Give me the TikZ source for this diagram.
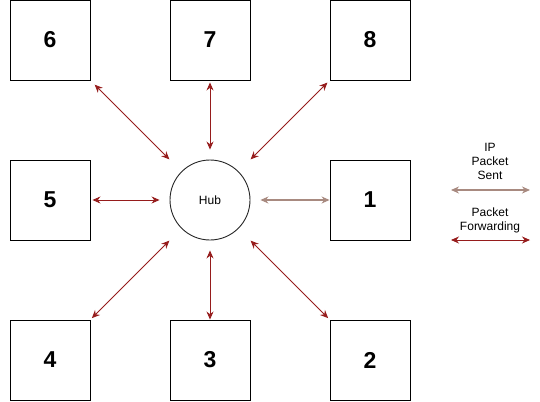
\documentclass[tikz,border=0pt]{standalone}
\usepackage{fontspec}
\setmainfont{Liberation Sans}
\usetikzlibrary{arrows.meta}
\definecolor{fwd}{HTML}{961C1C}
\definecolor{ipsent}{HTML}{A88A80}
\tikzset{
  box/.style={draw=black, line width=0.9pt, minimum size=80pt, inner sep=0pt, font=\fontsize{23}{26}\selectfont\bfseries},
  hubnode/.style={circle, draw=black!85, line width=0.9pt, minimum size=80pt, inner sep=0pt, font=\fontsize{12}{14}\selectfont},
  fwdarrow/.style={draw=fwd, line width=0.9pt, {Stealth[length=8pt,width=7pt]}-{Stealth[length=8pt,width=7pt]}},
  iparrow/.style={draw=ipsent, line width=1.2pt, {Stealth[length=8pt,width=7pt]}-{Stealth[length=8pt,width=7pt]}},
  legtext/.style={align=center, font=\fontsize{12}{14}\selectfont, inner sep=0pt}
}
\begin{document}
\begin{tikzpicture}[x=1pt,y=-1pt]
\useasboundingbox (0,0) rectangle (540,401);
\node[box] (b6) at (50,40) {6};
\node[box] (b7) at (210,40) {7};
\node[box] (b8) at (370,40) {8};
\node[box] (b5) at (50,200) {5};
\node[box] (b1) at (370,200) {1};
\node[box] (b4) at (50,360) {4};
\node[box] (b3) at (210,360) {3};
\node[box] (b2) at (370,360) {2};
\node[hubnode] (hub) at (210,200) {Hub};

\draw[fwdarrow, shorten <=6pt, shorten >=17pt] (b6.south east) -- (hub.135);
\draw[fwdarrow, shorten <=2pt, shorten >=10pt] (b7.south) -- (hub.north);
\draw[fwdarrow, shorten <=3pt, shorten >=17pt] (b8.south west) -- (hub.45);
\draw[fwdarrow, shorten <=2pt, shorten >=10pt] (b5.east) -- (hub.west);
\draw[iparrow, shorten <=10pt, shorten >=0pt] (hub.east) -- (b1.west);
\draw[fwdarrow, shorten <=2pt, shorten >=17pt] (b4.north east) -- (hub.225);
\draw[fwdarrow, shorten <=10pt, shorten >=0pt] (hub.south) -- (b3.north);
\draw[fwdarrow, shorten <=17pt, shorten >=2pt] (hub.-45) -- (b2.north west);

\node[legtext] (lip) at (490,161) {IP\\Packet\\Sent};
\coordinate (ipl) at (451,190);
\coordinate (ipr) at (530,190);
\draw[iparrow] (ipl) -- (ipr);
\node[legtext] (lfw) at (490,220) {Packet\\Forwarding};
\coordinate (fwl) at (451,240);
\coordinate (fwr) at (530,240);
\draw[fwdarrow] (fwl) -- (fwr);
\end{tikzpicture}
\end{document}
